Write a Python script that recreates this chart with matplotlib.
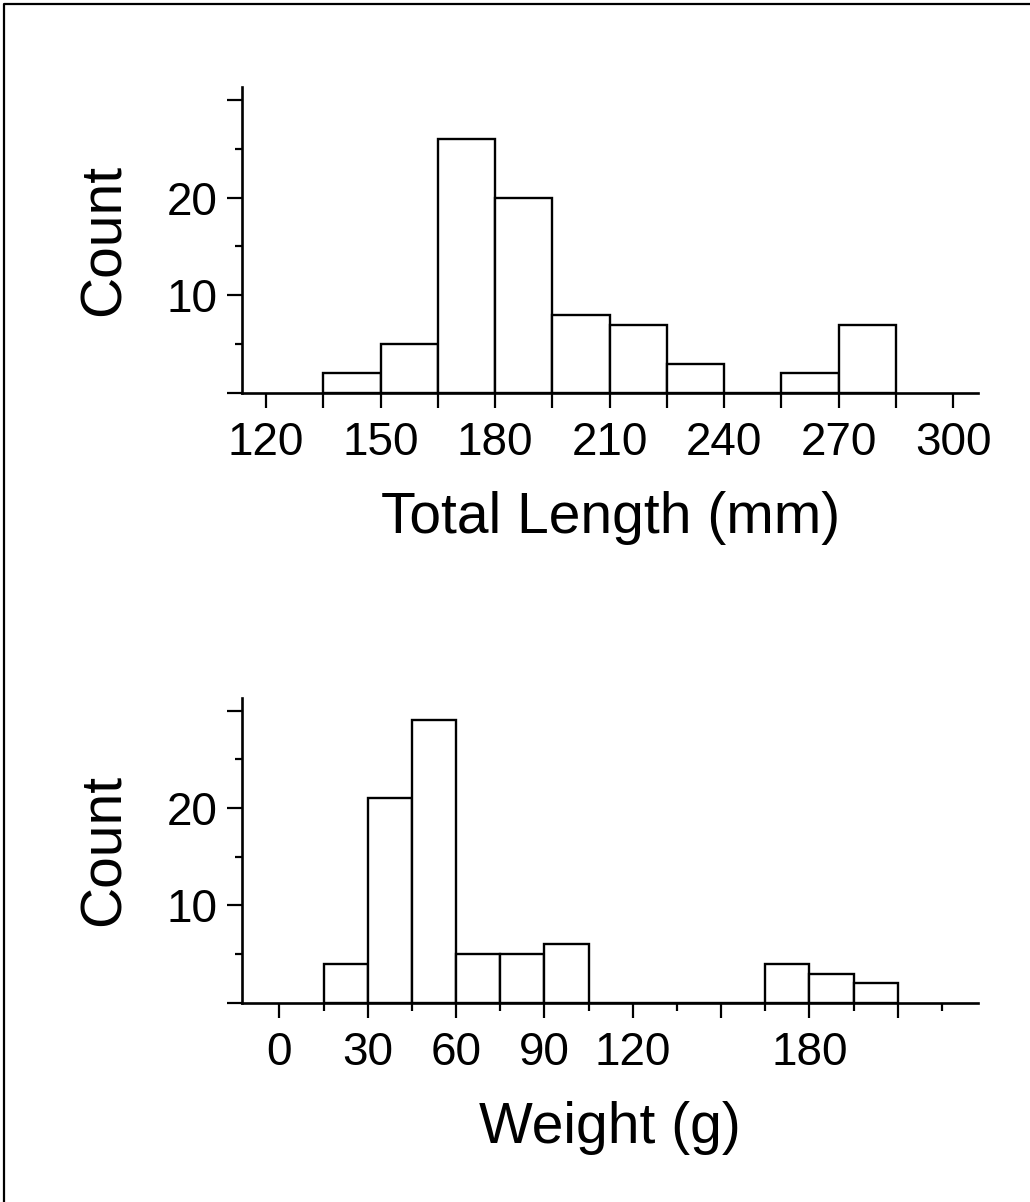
import matplotlib
matplotlib.use("Agg")
import matplotlib.pyplot as plt
from matplotlib.lines import Line2D
from matplotlib.ticker import FixedLocator

plt.rcParams['font.family'] = ['Liberation Sans', 'DejaVu Sans']

# ---- data ----
length_bin_starts = [135, 150, 165, 180, 195, 210, 225, 240, 255, 270]
length_counts = [2, 5, 26, 20, 8, 7, 3, 0, 2, 7]
length_ticks = [120, 150, 180, 210, 240, 270, 300]

weight_bin_starts = [15, 30, 45, 60, 75, 90, 105, 120, 135, 150, 165, 180, 195]
weight_counts = [4, 21, 29, 5, 5, 6, 0, 0, 0, 0, 4, 3, 2]
weight_tick_labels = [0, 30, 60, 90, 120, 180]

bin_width = 15

fig = plt.figure(figsize=(10.30, 12.02), dpi=100)

ax1 = fig.add_axes([0.2350, 0.6730, 0.7146, 0.2546])
ax2 = fig.add_axes([0.2350, 0.1658, 0.7146, 0.2535])

LW = 1.9
for ax in (ax1, ax2):
    for s in ('top', 'right'):
        ax.spines[s].set_visible(False)
    for s in ('left', 'bottom'):
        ax.spines[s].set_linewidth(LW)
    ax.set_ylim(0, 31.3)
    ax.yaxis.set_major_locator(FixedLocator([0, 10, 20, 30]))
    ax.yaxis.set_minor_locator(FixedLocator([5, 15, 25]))
    ax.set_yticklabels(['', '10', '20', ''])
    ax.tick_params(axis='both', which='major', length=10.8, width=1.6,
                   labelsize=33, direction='out', color='black')
    ax.tick_params(axis='both', which='minor', length=5.4, width=1.6,
                   direction='out')
    ax.tick_params(axis='y', which='major', pad=7)
    ax.tick_params(axis='x', which='major', pad=9.3)
    ax.set_ylabel('Count', fontsize=41, labelpad=25)

# top panel
ax1.bar(length_bin_starts, length_counts, width=bin_width, align='edge',
        facecolor='white', edgecolor='black', linewidth=1.7, zorder=2)
ax1.set_xlim(113.7, 306.5)
top_ticks = list(range(120, 301, 15))
ax1.xaxis.set_major_locator(FixedLocator(top_ticks))
ax1.set_xticklabels([str(t) if t in length_ticks else '' for t in top_ticks])
ax1.set_xlabel('Total Length (mm)', fontsize=41, labelpad=19)

# bottom panel
ax2.bar(weight_bin_starts, weight_counts, width=bin_width, align='edge',
        facecolor='white', edgecolor='black', linewidth=1.7, zorder=2)
ax2.set_xlim(-12.7, 237.3)
maj = list(range(0, 211, 30))
ax2.xaxis.set_major_locator(FixedLocator(maj))
ax2.xaxis.set_minor_locator(FixedLocator(list(range(15, 226, 30))))
ax2.set_xticklabels([str(t) if t in weight_tick_labels else '' for t in maj])
ax2.set_xlabel('Weight (g)', fontsize=41, labelpad=19)

# partial frame (left and top borders)
fig.add_artist(Line2D([0.0035, 0.0035, 1.0], [0.0, 0.9965, 0.9965],
                      transform=fig.transFigure, color='black', linewidth=1.6))

fig.savefig('out.png', dpi=100, facecolor='white')
